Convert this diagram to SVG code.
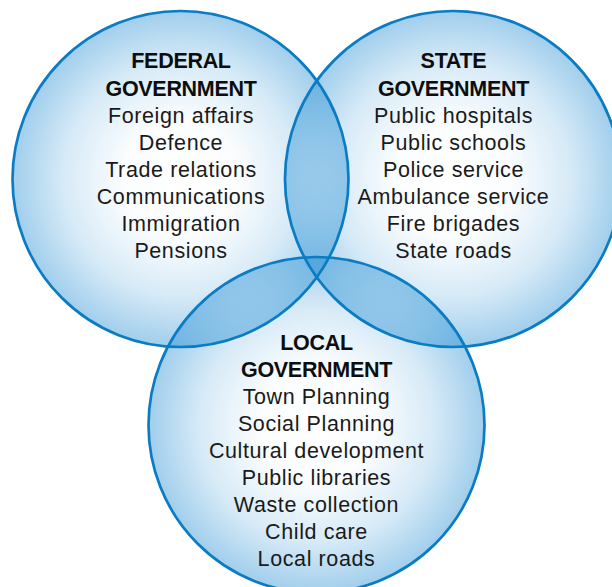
<svg xmlns="http://www.w3.org/2000/svg" width="612" height="587" viewBox="0 0 612 587">
<defs>
<radialGradient id="g" cx="0.5" cy="0.5" r="0.5">
<stop offset="0" stop-color="#2890d4" stop-opacity="0"/>
<stop offset="0.35" stop-color="#2890d4" stop-opacity="0.02"/>
<stop offset="0.7" stop-color="#2890d4" stop-opacity="0.19"/>
<stop offset="1" stop-color="#2890d4" stop-opacity="0.44"/>
</radialGradient>
</defs>
<style>
.fill{fill:url(#g);stroke:none}
.ring{fill:none;stroke:#0a7cc4;stroke-width:2.7}
.h{font-family:"Liberation Sans",Arial,sans-serif;font-weight:bold;font-size:21.5px;letter-spacing:-0.3px;fill:#0d0d0d;text-anchor:middle}
.t{font-family:"Liberation Sans",Arial,sans-serif;font-size:21.5px;letter-spacing:0.6px;fill:#1a1a1a;text-anchor:middle}
</style>
<rect width="612" height="587" fill="#ffffff"/>
<g id="fills">
<circle class="fill" cx="180.5" cy="179" r="168"/>
<circle class="fill" cx="453" cy="179" r="168"/>
<circle class="fill" cx="316.5" cy="425" r="168"/>
</g>
<g id="federal">
<circle class="ring" cx="180.5" cy="179" r="168"/>
<text class="h" x="181" y="68">FEDERAL</text>
<text class="h" x="181" y="96">GOVERNMENT</text>
<text class="t" x="181" y="123">Foreign affairs</text>
<text class="t" x="181" y="150">Defence</text>
<text class="t" x="181" y="177">Trade relations</text>
<text class="t" x="181" y="204">Communications</text>
<text class="t" x="181" y="231">Immigration</text>
<text class="t" x="181" y="258">Pensions</text>
</g>
<g id="state">
<circle class="ring" cx="453" cy="179" r="168"/>
<text class="h" x="453.5" y="68">STATE</text>
<text class="h" x="453.5" y="96">GOVERNMENT</text>
<text class="t" x="453.5" y="123">Public hospitals</text>
<text class="t" x="453.5" y="150">Public schools</text>
<text class="t" x="453.5" y="177">Police service</text>
<text class="t" x="453.5" y="204">Ambulance service</text>
<text class="t" x="453.5" y="231">Fire brigades</text>
<text class="t" x="453.5" y="258">State roads</text>
</g>
<g id="local">
<circle class="ring" cx="316.5" cy="425" r="168"/>
<text class="h" x="316.5" y="350">LOCAL</text>
<text class="h" x="316.5" y="377">GOVERNMENT</text>
<text class="t" x="316.5" y="404">Town Planning</text>
<text class="t" x="316.5" y="431">Social Planning</text>
<text class="t" x="316.5" y="458">Cultural development</text>
<text class="t" x="316.5" y="485">Public libraries</text>
<text class="t" x="316.5" y="512">Waste collection</text>
<text class="t" x="316.5" y="539">Child care</text>
<text class="t" x="316.5" y="566">Local roads</text>
</g>
<g id="connectors"/>
</svg>
